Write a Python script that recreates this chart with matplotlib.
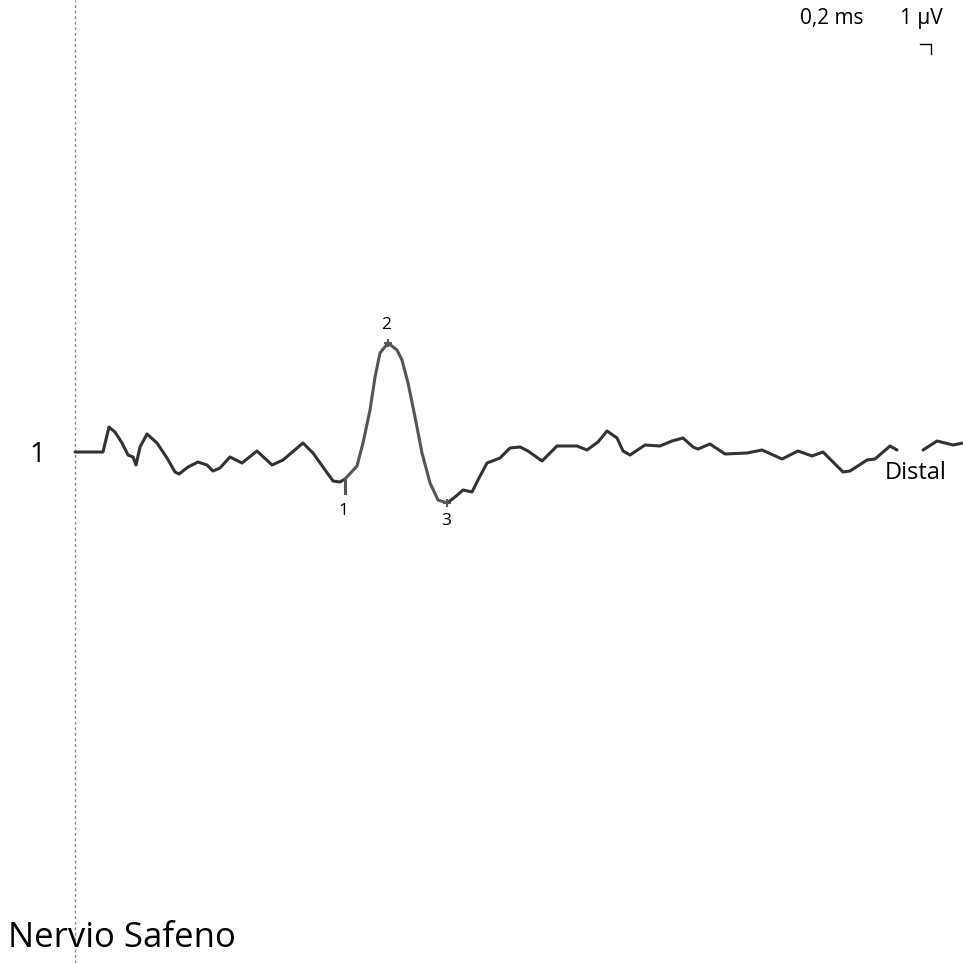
import numpy as np
import matplotlib
matplotlib.use("Agg")
import matplotlib.pyplot as plt

plt.rcParams['font.family'] = ['Open Sans', 'DejaVu Sans']

# ---- trace data: time (ms), amplitude (uV) ----
t_ms = [0, 0.509, 0.618, 0.727, 0.855, 0.964, 1.055, 1.109, 1.182, 1.309, 1.491,
        1.673, 1.818, 1.891, 2.055, 2.236, 2.4, 2.509, 2.636, 2.818, 3.036, 3.309,
        3.582, 3.782, 4.145, 4.327, 4.509, 4.691, 4.818, 4.909, 5.127, 5.236, 5.364,
        5.455, 5.545, 5.691, 5.855, 5.945, 6.055, 6.182, 6.309, 6.455, 6.6, 6.764,
        6.909, 7.055, 7.218, 7.327, 7.491, 7.727, 7.909, 8.091, 8.236, 8.491, 8.764,
        9.127, 9.309, 9.509, 9.673, 9.855, 9.964, 10.091, 10.364, 10.636, 10.855,
        11.055, 11.236, 11.327, 11.545, 11.818, 12.218, 12.491, 12.855, 13.145, 13.4,
        13.6, 13.782, 13.964, 14.091, 14.4, 14.545, 14.818, 14.945, 15.2, 15.418,
        15.673, 15.964, 16.145]
amp_uv = [0, 0, 2.5, 2.0, 0.9, -0.3, -0.5, -1.3, 0.5, 1.8, 0.9,
          -0.6, -2.0, -2.2, -1.5, -1.0, -1.3, -1.9, -1.6, -0.5, -1.1, 0.1,
          -1.3, -0.8, 0.9, -0.1, -1.5, -2.9, -3.0, -2.7, -1.4, 0.9, 4.2,
          7.5, 9.9, 10.9, 10.2, 9.2, 6.9, 3.5, -0.1, -3.1, -4.8, -5.1,
          -4.5, -3.8, -4.0, -2.8, -1.1, -0.6, 0.4, 0.5, 0.1, -0.9, 0.6,
          0.6, 0.2, 1.0, 2.1, 1.4, 0.1, -0.3, 0.7, 0.6, 1.1,
          1.4, 0.5, 0.3, 0.8, -0.2, -0.1, 0.2, -0.7, 0.1, -0.4,
          0.0, -1.0, -2.0, -1.9, -0.8, -0.7, 0.6, 0.2, np.nan, 0.2,
          1.1, 0.7, 0.9]

# markers 1, 2, 3 (index into trace)
marker_idx = [29, 35, 43]
marker_lbl = ["1", "2", "3"]

t = np.array(t_ms)
v = np.array(amp_uv)

fig = plt.figure(figsize=(9.63, 9.63), dpi=100)
ax = fig.add_axes([0, 0, 1, 1])
ax.set_xlim(-1.3636, 16.145)
ax.set_ylim(-51.1, 45.2)
ax.axis("off")

# baseline cursor
ax.axvline(0, color="#888888", lw=1, ls=(0, (2, 2)))

# trace: dark outside markers, grey between markers 1 and 3
i1, i3 = marker_idx[0], marker_idx[2]
kw = dict(lw=2.2, solid_joinstyle="round", solid_capstyle="round")
ax.plot(t[:i1 + 1], v[:i1 + 1], color="#333333", **kw)
ax.plot(t[i1:i3 + 1], v[i1:i3 + 1], color="#555555", **kw)
ax.plot(t[i3:], v[i3:], color="#333333", **kw)

# marker symbols and labels
m1, m2, m3 = marker_idx
ax.plot([t[m1], t[m1]], [v[m1], v[m1] - 1.4], color="#555555", lw=2.2)
ax.plot(t[m2], v[m2], marker="+", color="#555555", ms=6, mew=1.5)
ax.plot(t[m3], v[m3], marker="+", color="#555555", ms=6, mew=1.5)
ax.text(t[m1] - 0.02, v[m1] - 3.2, marker_lbl[0], ha="center", va="center", fontsize=12.5)
ax.text(t[m2] - 0.04, v[m2] + 1.8, marker_lbl[1], ha="center", va="center", fontsize=12.5)
ax.text(t[m3] - 0.02, v[m3] - 1.8, marker_lbl[2], ha="center", va="center", fontsize=12.5)

# trace number and name
ax.text(-0.69, -0.3, "1", ha="center", va="center", fontsize=20)
ax.text(14.727, -2.1, "Distal", ha="left", va="center", fontsize=17)
ax.text(-1.22, -48.6, "Nervio Safeno", ha="left", va="center", fontsize=25)

# scale bar 0,2 ms / 1 uV
sx, sy = 15.364, 40.8
ax.plot([sx, sx + 0.2, sx + 0.2], [sy, sy, sy - 1], color="black", lw=1)
ax.text(13.18, 43.4, "0,2 ms", ha="left", va="center", fontsize=15)
ax.text(14.995, 43.4, "1 µV", ha="left", va="center", fontsize=15)

plt.savefig("out.png", dpi=100)
